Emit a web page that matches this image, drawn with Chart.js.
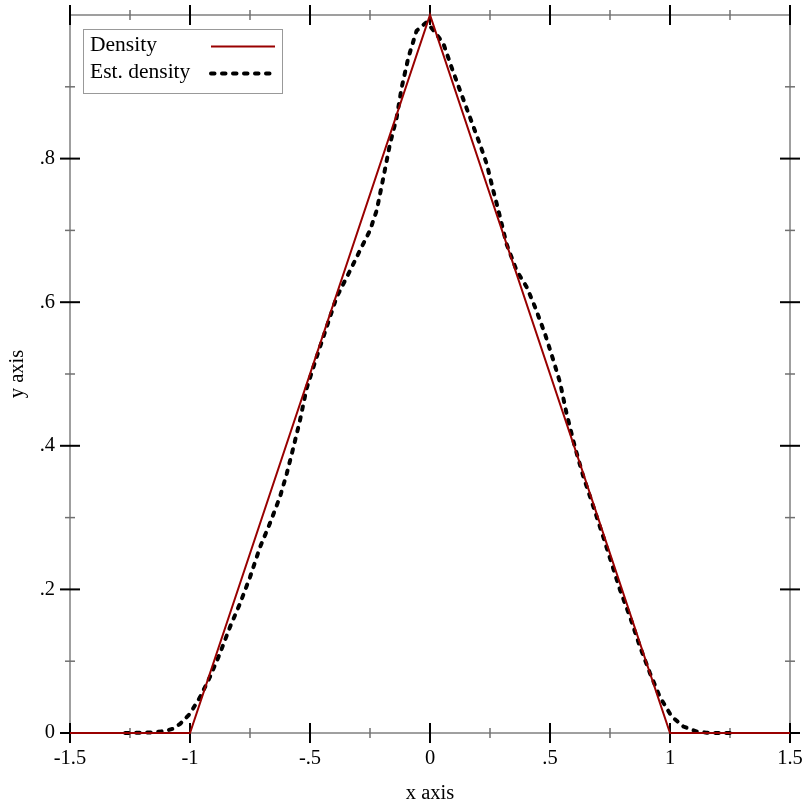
<!DOCTYPE html>
<html>
<head>
<meta charset="utf-8">
<script src="https://cdn.jsdelivr.net/npm/chart.js@4.4.1/dist/chart.umd.min.js"></script>
<style>
  html, body { margin: 0; padding: 0; background: #fff; }
  #wrap { width: 812px; height: 812px; }
</style>
</head>
<body>
<div id="wrap"><canvas id="chart" width="812" height="812"></canvas></div>
<script>
// true density (triangle)
const densityX = [-1.5, -1, 0, 1, 1.5];
const densityY = [0, 0, 1, 0, 0];

// estimated density
const estX = [-1.27, -1.2, -1.15, -1.1, -1.07, -1.04, -1.0, -0.958, -0.917, -0.875, -0.833, -0.792,
  -0.75, -0.708, -0.667, -0.625, -0.597, -0.569, -0.542, -0.514, -0.472, -0.431, -0.389, -0.333,
  -0.292, -0.25, -0.222, -0.194, -0.167, -0.139, -0.118, -0.09, -0.056, -0.014, 0.021, 0.056,
  0.09, 0.125, 0.167, 0.208, 0.236, 0.264, 0.285, 0.319, 0.361, 0.403, 0.438, 0.479, 0.514,
  0.542, 0.569, 0.604, 0.639, 0.681, 0.722, 0.757, 0.792, 0.833, 0.875, 0.917, 0.958, 1.007,
  1.056, 1.111, 1.153, 1.2, 1.25];
const estY = [0, 0.0005, 0.001, 0.003, 0.006, 0.013, 0.027, 0.05, 0.078, 0.111, 0.148, 0.18,
  0.217, 0.259, 0.292, 0.329, 0.361, 0.398, 0.435, 0.48, 0.524, 0.565, 0.607, 0.644,
  0.672, 0.7, 0.728, 0.774, 0.82, 0.857, 0.899, 0.941, 0.978, 0.99, 0.976, 0.96,
  0.927, 0.895, 0.857, 0.82, 0.793, 0.755, 0.728, 0.681, 0.644, 0.621, 0.593, 0.556, 0.519,
  0.488, 0.445, 0.398, 0.357, 0.315, 0.273, 0.236, 0.199, 0.162, 0.12, 0.083, 0.05, 0.023,
  0.009, 0.002, 0.0005, 0, 0];

const xMajor = [-1.5, -1, -0.5, 0, 0.5, 1, 1.5];
const xLabels = ["-1.5", "-1", "-.5", "0", ".5", "1", "1.5"];
const xMinor = [-1.25, -0.75, -0.25, 0.25, 0.75, 1.25];
const yMajor = [0, 0.2, 0.4, 0.6, 0.8];
const yLabels = ["0", ".2", ".4", ".6", ".8"];
const yMinor = [0.1, 0.3, 0.5, 0.7, 0.9];

const serif = "'Liberation Serif', 'DejaVu Serif', serif";
const font = { family: serif, size: 20.5 };

// axes frame with ticks crossing the lines, on all four sides
const framePlugin = {
  id: "frame",
  beforeDatasetsDraw(chart) {
    const { ctx, chartArea: a, scales: { x, y } } = chart;
    ctx.save();
    ctx.strokeStyle = "#808080";
    ctx.lineWidth = 1.5;
    ctx.strokeRect(a.left, a.top, a.right - a.left, a.bottom - a.top);

    const tick = (px, py, horiz, len, color, w) => {
      ctx.strokeStyle = color;
      ctx.lineWidth = w;
      ctx.beginPath();
      if (horiz) { ctx.moveTo(px - len, py); ctx.lineTo(px + len, py); }
      else { ctx.moveTo(px, py - len); ctx.lineTo(px, py + len); }
      ctx.stroke();
    };
    for (const v of xMinor) {
      const px = x.getPixelForValue(v);
      tick(px, a.bottom, false, 5, "#707070", 1.5);
      tick(px, a.top, false, 5, "#707070", 1.5);
    }
    for (const v of yMinor) {
      const py = y.getPixelForValue(v);
      tick(a.left, py, true, 5, "#707070", 1.5);
      tick(a.right, py, true, 5, "#707070", 1.5);
    }
    for (const v of xMajor) {
      const px = x.getPixelForValue(v);
      tick(px, a.bottom, false, 10, "#000", 2);
      tick(px, a.top, false, 10, "#000", 2);
    }
    for (const v of yMajor) {
      const py = y.getPixelForValue(v);
      tick(a.left, py, true, 10, "#000", 2);
      tick(a.right, py, true, 10, "#000", 2);
    }
    ctx.restore();
  }
};

// legend box in the top-left corner: label text, then line sample
const legendPlugin = {
  id: "boxLegend",
  afterDatasetsDraw(chart) {
    const { ctx, chartArea: a } = chart;
    const bx = a.left + 13, by = a.top + 14, bw = 199, bh = 64;
    ctx.save();
    ctx.fillStyle = "#fff";
    ctx.fillRect(bx, by, bw, bh);
    ctx.strokeStyle = "#999";
    ctx.lineWidth = 1;
    ctx.strokeRect(bx + 0.5, by + 0.5, bw, bh);
    chart.data.datasets.forEach((ds, i) => {
      const ty = by + 16 + i * 27;
      ctx.fillStyle = "#000";
      ctx.font = "21.5px " + serif;
      ctx.textBaseline = "middle";
      ctx.textAlign = "left";
      ctx.fillText(ds.label, bx + 7, ty);
      ctx.strokeStyle = ds.borderColor;
      ctx.lineWidth = ds.borderWidth;
      ctx.lineCap = ds.borderCapStyle || "butt";
      ctx.setLineDash(ds.borderDash || []);
      ctx.beginPath();
      ctx.moveTo(bx + 128, ty + 1.5);
      ctx.lineTo(bx + 192, ty + 1.5);
      ctx.stroke();
      ctx.setLineDash([]);
    });
    ctx.restore();
  }
};

new Chart(document.getElementById("chart"), {
  type: "scatter",
  data: {
    datasets: [
      {
        label: "Density",
        data: densityX.map((v, i) => ({ x: v, y: densityY[i] })),
        showLine: true,
        borderColor: "#990000",
        borderWidth: 2,
        pointRadius: 0,
        clip: false,
      },
      {
        label: "Est. density",
        data: estX.map((v, i) => ({ x: v, y: estY[i] })),
        showLine: true,
        borderColor: "#000",
        borderWidth: 4,
        borderDash: [3.5, 7.5],
        borderCapStyle: "round",
        pointRadius: 0,
        clip: false,
      },
    ],
  },
  options: {
    responsive: false,
    animation: false,
    layout: { padding: { top: 15, right: 22, left: 0, bottom: 0 } },
    plugins: { legend: { display: false }, tooltip: { enabled: false } },
    scales: {
      x: {
        type: "linear",
        position: "bottom",
        min: -1.5,
        max: 1.5,
        afterBuildTicks: (s) => { s.ticks = xMajor.map((v) => ({ value: v })); },
        afterFit: (s) => { s.height = 79; s.paddingLeft = 0; s.paddingRight = 0; },
        ticks: {
          callback: (v) => xLabels[xMajor.indexOf(v)],
          font, color: "#000", padding: 13, maxRotation: 0,
        },
        grid: { display: false, drawTicks: false },
        border: { display: false },
        title: { display: true, text: "x axis", font, color: "#000", padding: { top: 0, bottom: 6 } },
      },
      y: {
        type: "linear",
        position: "left",
        min: 0,
        max: 1,
        afterBuildTicks: (s) => { s.ticks = yMajor.map((v) => ({ value: v })); },
        afterFit: (s) => { s.width = 70; s.paddingTop = 0; s.paddingBottom = 0; },
        ticks: {
          callback: (v) => yLabels[yMajor.indexOf(v)],
          font, color: "#000", padding: 15,
        },
        grid: { display: false, drawTicks: false },
        border: { display: false },
        title: { display: true, text: "y axis", font, color: "#000", padding: { top: 5, bottom: 0 } },
      },
    },
  },
  plugins: [framePlugin, legendPlugin],
});
</script>
</body>
</html>
